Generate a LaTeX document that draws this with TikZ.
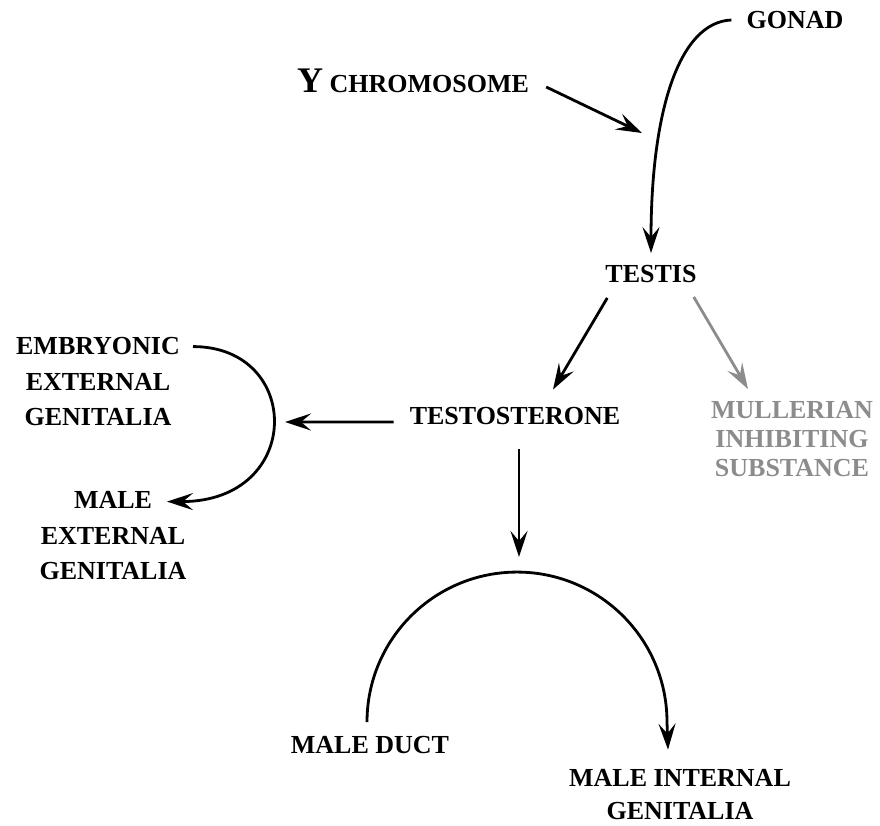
\documentclass[tikz,border=0pt]{standalone}
\usepackage{fontspec}
\setmainfont{Liberation Serif}
\usetikzlibrary{arrows.meta}
\definecolor{mullgray}{RGB}{140,140,140}

\begin{document}
\begin{tikzpicture}[x=1pt, y=-1pt,
    >={Stealth[length=26pt, width=17pt, inset=10pt]},
    lbl/.style={inner sep=0pt, align=center, font=\fontsize{26}{35.5}\selectfont\bfseries},
    conn/.style={->, line width=2.8pt, black}]

    % 1. Khung hình
    \useasboundingbox (0,0) rectangle (880,825);

    % 2. Các nhãn
    \node[lbl] (gonad) at (795,20) {GONAD};
    \node[lbl, anchor=base west] (ychrom) at (297,92) {{\fontsize{36}{40}\selectfont Y} CHROMOSOME};
    \node[lbl] (testis) at (651,274) {TESTIS};
    \node[lbl] (testost) at (515,416.5) {TESTOSTERONE};
    \node[lbl, font=\fontsize{26}{29}\selectfont\bfseries, text=mullgray] (muller) at (792,439)
        {MULLERIAN\\INHIBITING\\SUBSTANCE};
    \node[lbl] (embryo) at (98,382) {EMBRYONIC\\EXTERNAL\\GENITALIA};
    \node[lbl] (maleext) at (113,536) {MALE\\EXTERNAL\\GENITALIA};
    \node[lbl] (maleduct) at (370,745) {MALE DUCT};
    \node[lbl, font=\fontsize{26}{33}\selectfont\bfseries] (maleint) at (680,795)
        {MALE INTERNAL\\GENITALIA};

    % 3. Các điểm mà mũi tên chỉ vào
    \coordinate (yend) at (642,133);
    \coordinate (extarc) at (285,422);
    \coordinate (archtop) at (519,557);

    % 4. Gonad -> testis, Y chromosome
    \draw[conn] ([xshift=-15pt]gonad.west) .. controls +(-52,2) and +(0,-143) .. ([yshift=12pt]testis.north);
    \draw[conn] ([shift={(17pt,5pt)}]ychrom.base east) -- (yend);

    % 5. Testis -> testosterone, MIS
    \draw[conn] ([shift={(2pt,-15pt)}]testis.south west) -- ([shift={(38pt,18pt)}]testost.north);
    \draw[conn, mullgray] ([shift={(-3pt,-14pt)}]testis.south east) -- ([shift={(-44pt,12pt)}]muller.north);

    % 6. Testosterone -> cơ quan sinh dục ngoài
    \draw[conn] ([shift={(-16pt,3pt)}]testost.base west) -- (extarc);
    \draw[conn] ([shift={(95pt,-9pt)}]embryo.north) .. controls +(110,0) and +(137,0) .. ([shift={(54pt,-10pt)}]maleext.north);

    % 7. Testosterone -> ống sinh dục nam
    \draw[conn] ([shift={(4pt,-24pt)}]testost.south) -- (archtop);
    \draw[conn] ([shift={(-3pt,14pt)}]maleduct.north) arc[start angle=180, end angle=360, radius=150]
        -- ([shift={(-12pt,20pt)}]maleint.north);

\end{tikzpicture}
\end{document}
